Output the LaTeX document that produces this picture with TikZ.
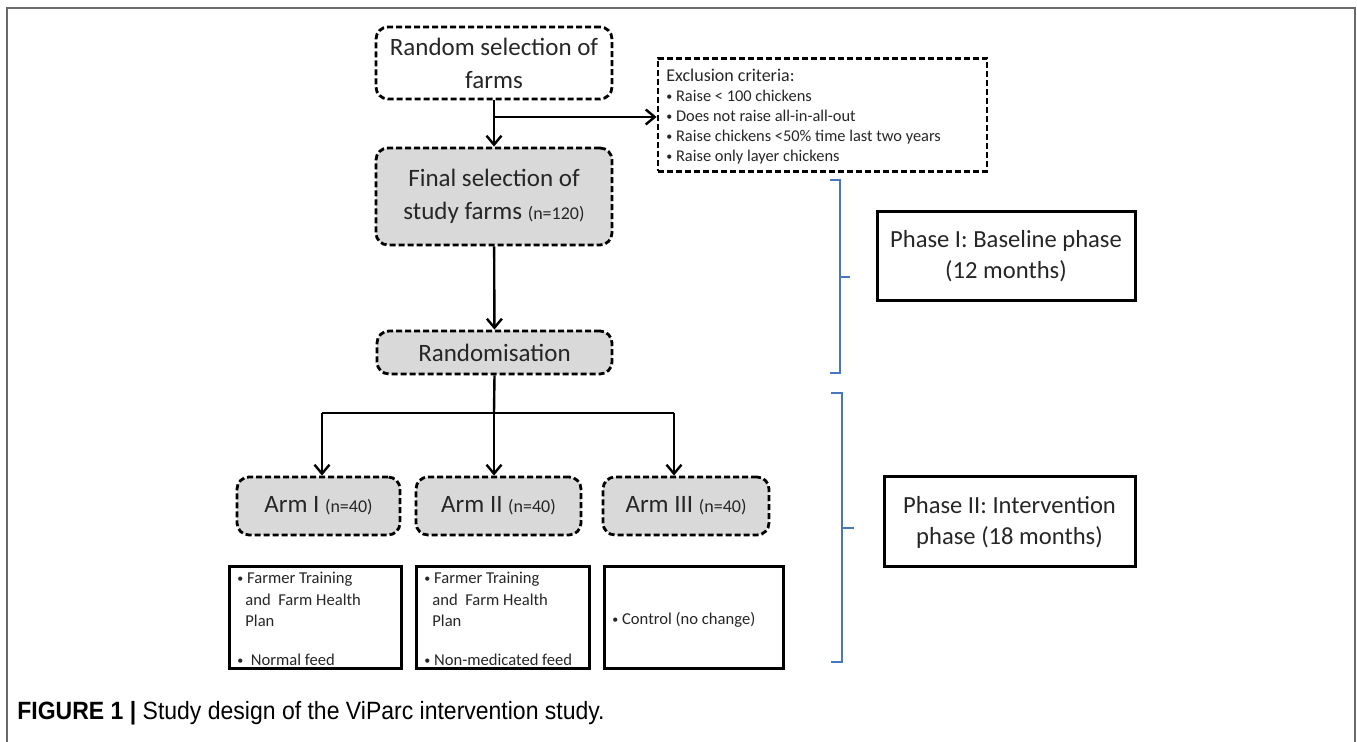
\documentclass[tikz,border=0pt]{standalone}
\usepackage{fontspec}
\setmainfont{Carlito}
\newfontfamily\capfont[FakeStretch=0.92]{Liberation Sans}
\usetikzlibrary{arrows.meta, calc}
\definecolor{boxgray}{HTML}{D9D9D9}
\definecolor{brblue}{HTML}{4777C0}
\definecolor{framegray}{HTML}{6A6A6A}
\definecolor{txtdark}{HTML}{262626}

\newcommand{\bigtxt}{\fontsize{12.5}{16.5}\selectfont}
\newcommand{\phasetxt}{\fontsize{12.3}{15.5}\selectfont}
\newcommand{\listtxt}{\fontsize{8.2}{10}\selectfont}
\newcommand{\armtxt}{\fontsize{8.3}{10.6}\selectfont}
\newcommand{\nsmall}[1]{{\fontsize{9}{10}\selectfont #1}}
\newcommand{\bul}{{\fontsize{6}{6}\selectfont\raisebox{0.25ex}{•}}}

\begin{document}
\begin{tikzpicture}[x=0.5pt, y=-0.5pt,
  dbox/.style={draw, dash pattern=on 3pt off 1.5pt, line width=1.4pt,
    rounded corners=6pt, align=center, inner sep=0pt, font=\bigtxt, text=txtdark},
  xbox/.style={draw, dash pattern=on 3pt off 1.5pt, line width=1.4pt, inner sep=0pt},
  sbox/.style={draw, line width=1.5pt, inner sep=0pt, align=center, text=txtdark},
  ltxt/.style={anchor=north west, align=left, inner sep=0pt, text=txtdark},
  line/.style={line width=1.2pt},
  link/.style={-{Straight Barb[length=4.5pt, width=7.5pt]}, line width=1.2pt},
  brace/.style={brblue, line width=1.1pt},
]

\useasboundingbox (0,0) rectangle (1357,742);

% frame
\draw[framegray, line width=1pt] (7,742) -- (7,8) -- (1355,8) -- (1355,742);

% ---------------- flow boxes ----------------
\node[dbox, minimum width=118pt, minimum height=36pt] (random) at (494,63)
  {Random selection of\\farms};
\node[dbox, fill=boxgray, minimum width=118pt, minimum height=48.5pt] (final) at (494,196.5)
  {Final selection of\\study farms \nsmall{(n=120)}};
\node[dbox, fill=boxgray, minimum width=117.5pt, minimum height=21.5pt] (rand) at (494.5,352.5)
  {Randomisation};

% exclusion criteria
\node[xbox, minimum width=164.5pt, minimum height=56.5pt] (excl) at (822.5,115) {};
\node[ltxt, font=\listtxt] (excltxt) at (666,69)
  {{\fontsize{9}{10}\selectfont Exclusion criteria:}\\
   \bul\ Raise < 100 chickens\\
   \bul\ Does not raise all-in-all-out\\
   \bul\ Raise chickens <50\% time last two years\\
   \bul\ Raise only layer chickens};

% arms
\node[dbox, fill=boxgray, minimum width=81.5pt, minimum height=29pt] (arm1) at (318.5,506)
  {Arm I \nsmall{(n=40)}};
\node[dbox, fill=boxgray, minimum width=82.5pt, minimum height=29pt] (arm2) at (498.5,506)
  {Arm II \nsmall{(n=40)}};
\node[dbox, fill=boxgray, minimum width=83pt, minimum height=29pt] (arm3) at (686,506)
  {Arm III \nsmall{(n=40)}};

% interventions
\node[sbox, minimum width=86pt, minimum height=51pt] (plan1) at (315,618) {};
\node[sbox, minimum width=86.5pt, minimum height=51pt] (plan2) at (502.5,618) {};
\node[sbox, minimum width=89.5pt, minimum height=51pt] (plan3) at (693.5,618) {};

\node[ltxt, font=\armtxt] (plan1a) at (237,572)
  {\bul\ Farmer Training\\\hspace*{4pt}and\ \ Farm Health\\\hspace*{4pt}Plan};
\node[ltxt, font=\armtxt, anchor=west] (plan1b) at (237,660) {\bul\ \ Normal feed};
\node[ltxt, font=\armtxt] (plan2a) at (424,572)
  {\bul\ Farmer Training\\\hspace*{4pt}and\ \ Farm Health\\\hspace*{4pt}Plan};
\node[ltxt, font=\armtxt, anchor=west] (plan2b) at (424,660) {\bul\ Non-medicated feed};
\node[ltxt, font=\armtxt, anchor=west] (plan3a) at (612,620) {\bul\ Control (no change)};

% phases
\node[sbox, font=\phasetxt, minimum width=129pt, minimum height=44.5pt] (phase1) at (1006,256.5)
  {Phase I: Baseline phase\\(12 months)};
\node[sbox, font=\phasetxt, minimum width=125.5pt, minimum height=45pt] (phase2) at (1009.5,522)
  {Phase II: Intervention\\phase (18 months)};

% ---------------- connectors ----------------
\coordinate (exbranch) at (494,117);
\coordinate (split) at (494,413);
\coordinate (splitL) at (322,413);
\coordinate (splitR) at (674,413);

\draw[link] (random) -- (final);
\draw[link] (exbranch) -- (exbranch -| excl.west);
\draw[link] (final) -- (rand);
\draw[line] (rand.south) -- (split);
\draw[line] (splitL) -- (splitR);
\draw[link] (splitL) -- (splitL |- arm1.north);
\draw[link] (split) -- (split |- arm2.north);
\draw[link] (splitR) -- (splitR |- arm3.north);

% ---------------- phase brackets ----------------
\draw[brace] (830,180) -- (840,180) -- (840,373) -- (830,373);
\draw[brace] (840,277) -- (850,277);
\draw[brace] (831,393) -- (842,393) -- (842,662) -- (831,662);
\draw[brace] (842,528) -- (854,528);

% caption
\node[anchor=west, inner sep=0pt, font=\capfont\fontsize{12.5}{14}\selectfont] (caption) at (17,713)
  {\textbf{FIGURE 1 |} Study design of the ViParc intervention study.};

\end{tikzpicture}
\end{document}
